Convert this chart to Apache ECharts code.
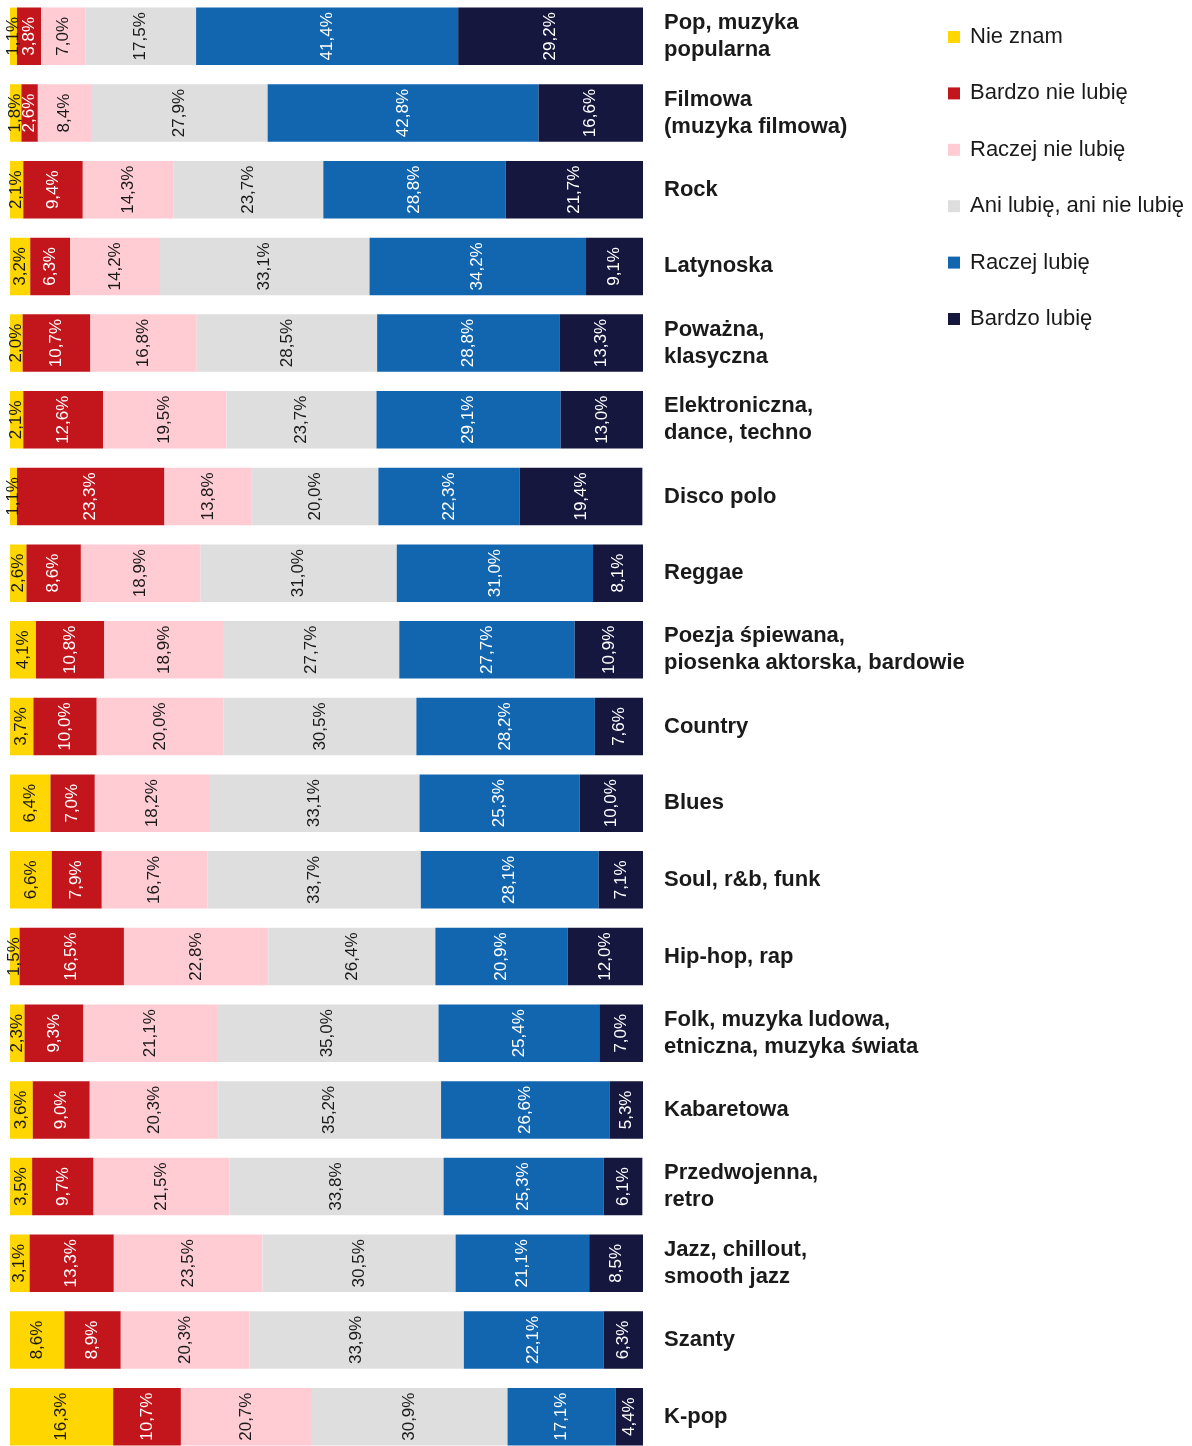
<!DOCTYPE html>
<html>
<head>
<meta charset="utf-8">
<script src="https://cdn.jsdelivr.net/npm/echarts@6/dist/echarts.min.js"></script>
<style>
  html, body { margin: 0; padding: 0; background: #fff; }
  #chart { width: 1192px; height: 1446px; }
</style>
</head>
<body>
<div id="chart"></div>
<script>
// kategorie (od góry)
var categories = [
    'Pop, muzyka\npopularna',
    'Filmowa\n(muzyka filmowa)',
    'Rock',
    'Latynoska',
    'Poważna,\nklasyczna',
    'Elektroniczna,\ndance, techno',
    'Disco polo',
    'Reggae',
    'Poezja śpiewana,\npiosenka aktorska, bardowie',
    'Country',
    'Blues',
    'Soul, r&b, funk',
    'Hip-hop, rap',
    'Folk, muzyka ludowa,\netniczna, muzyka świata',
    'Kabaretowa',
    'Przedwojenna,\nretro',
    'Jazz, chillout,\nsmooth jazz',
    'Szanty',
    'K-pop'
];

var seriesNames = ['Nie znam', 'Bardzo nie lubię', 'Raczej nie lubię', 'Ani lubię, ani nie lubię', 'Raczej lubię', 'Bardzo lubię'];

var nieZnam =        [1.1, 1.8, 2.1, 3.2, 2.0, 2.1, 1.1, 2.6, 4.1, 3.7, 6.4, 6.6, 1.5, 2.3, 3.6, 3.5, 3.1, 8.6, 16.3];
var bardzoNieLubie = [3.8, 2.6, 9.4, 6.3, 10.7, 12.6, 23.3, 8.6, 10.8, 10.0, 7.0, 7.9, 16.5, 9.3, 9.0, 9.7, 13.3, 8.9, 10.7];
var raczejNieLubie = [7.0, 8.4, 14.3, 14.2, 16.8, 19.5, 13.8, 18.9, 18.9, 20.0, 18.2, 16.7, 22.8, 21.1, 20.3, 21.5, 23.5, 20.3, 20.7];
var aniAni =         [17.5, 27.9, 23.7, 33.1, 28.5, 23.7, 20.0, 31.0, 27.7, 30.5, 33.1, 33.7, 26.4, 35.0, 35.2, 33.8, 30.5, 33.9, 30.9];
var raczejLubie =    [41.4, 42.8, 28.8, 34.2, 28.8, 29.1, 22.3, 31.0, 27.7, 28.2, 25.3, 28.1, 20.9, 25.4, 26.6, 25.3, 21.1, 22.1, 17.1];
var bardzoLubie =    [29.2, 16.6, 21.7, 9.1, 13.3, 13.0, 19.4, 8.1, 10.9, 7.6, 10.0, 7.1, 12.0, 7.0, 5.3, 6.1, 8.5, 6.3, 4.4];

var values = [nieZnam, bardzoNieLubie, raczejNieLubie, aniAni, raczejLubie, bardzoLubie];
var colors = ['#ffd600', '#c3161c', '#ffccd3', '#dedede', '#1266b0', '#15173f'];
var labelColors = ['#1a1a1a', '#fff', '#1a1a1a', '#1a1a1a', '#fff', '#fff'];

var FONT = '"Liberation Sans", Arial, Helvetica, sans-serif';

var chart = echarts.init(document.getElementById('chart'));

var series = values.map(function (data, i) {
    return {
        name: seriesNames[i],
        type: 'bar',
        stack: 'total',
        barWidth: 57.5,
        data: data,
        itemStyle: { color: colors[i] },
        label: {
            show: true,
            position: 'inside',
            rotate: 90,
            fontFamily: FONT,
            fontSize: 17,
            color: labelColors[i],
            formatter: function (p) {
                return p.value.toFixed(1).replace('.', ',') + '%';
            }
        },
        emphasis: { disabled: true }
    };
});

chart.setOption({
    animation: false,
    textStyle: { fontFamily: FONT },
    legend: {
        orient: 'vertical',
        left: 943,
        top: 21,
        icon: 'rect',
        itemWidth: 12,
        itemHeight: 12,
        itemGap: 34.4,
        selectedMode: false,
        data: seriesNames,
        textStyle: {
            fontFamily: FONT,
            fontSize: 22,
            lineHeight: 22,
            color: '#1a1a1a',
            padding: [0, 0, 0, 5]
        }
    },
    grid: {
        left: 10,
        width: 633,
        top: -2,
        height: 1457,
        outerBoundsMode: 'none',
        containLabel: false
    },
    xAxis: {
        type: 'value',
        min: 0,
        max: 100,
        show: false
    },
    yAxis: {
        type: 'category',
        data: categories,
        inverse: true,
        position: 'right',
        axisLine: { show: false },
        axisTick: { show: false },
        splitLine: { show: false },
        axisLabel: {
            margin: 21,
            align: 'left',
            fontFamily: FONT,
            fontWeight: 'bold',
            fontSize: 22,
            lineHeight: 27,
            padding: [4, 0, 0, 0],
            color: '#1a1a1a'
        }
    },
    series: series
});
</script>
</body>
</html>
